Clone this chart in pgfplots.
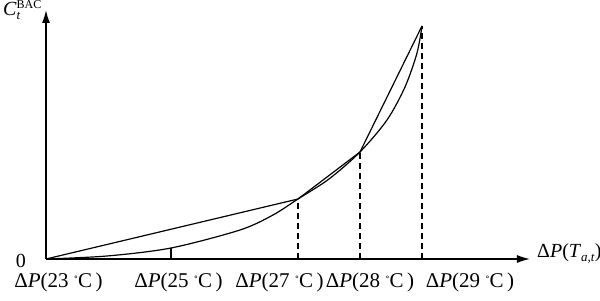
\documentclass[border=0pt]{standalone}
\usepackage{fontspec}
\setmainfont{Liberation Serif}
\usepackage{pgfplots}
\pgfplotsset{compat=1.18}
\usetikzlibrary{arrows.meta}
\newcommand\dP{Δ\textit{P}}
\newcommand\lab[1]{\dP(#1\ {\fontsize{13bp}{13bp}\selectfont\raisebox{0.25ex}{˚}}C\,)}
\begin{document}
\begin{tikzpicture}[font=\fontsize{20bp}{24bp}\selectfont]
\begin{axis}[x=1bp,y=1bp,xmin=0,xmax=484,ymin=0,ymax=249,
  axis lines=left,
  axis line style={line width=1.4bp,-{Latex[length=13bp,width=8bp]}},
  xtick=\empty, ytick=\empty, clip=false]
\addplot[black, line width=1.2bp, smooth, tension=0.5] coordinates {
 (0,0)(61,3)(125,11)(194,29)(227,44)(252,60)(283,80)(314,107)(341,139)(359,172)(371,206)(376,233)};
\addplot[black, line width=1.2bp] coordinates {(0,0)(252,60)(314,107)(376,233)};
\addplot[black, line width=1.2bp] coordinates {(125,0)(125,11)};
\addplot[black, line width=1.2bp, dash pattern=on 6bp off 4bp] coordinates {(252,0)(252,60)};
\addplot[black, line width=1.2bp, dash pattern=on 6bp off 4bp] coordinates {(314,0)(314,107)};
\addplot[black, line width=1.2bp, dash pattern=on 6bp off 4bp] coordinates {(376,0)(376,233)};
\begin{scope}[font=\fontsize{21bp}{24bp}\selectfont]
\node[anchor=base] at (axis cs:12.5,-28) {\lab{23}};
\node[anchor=base] at (axis cs:132.5,-28) {\lab{25}};
\node[anchor=base] at (axis cs:233.5,-28) {\lab{27}};
\node[anchor=base] at (axis cs:324,-28) {\lab{28}};
\node[anchor=base] at (axis cs:424,-28) {\lab{29}};
\end{scope}
\node at (axis cs:-25,-2) {0};
\node[anchor=base west, inner sep=0pt] at (axis cs:491,2) {\dP(\textit{T}\raisebox{-0.45ex}{\fontsize{13bp}{13bp}\selectfont\textit{a,t}})};
\node[anchor=base west, inner sep=0pt] at (axis cs:-43,244) {\textit{C}\rlap{\raisebox{-0.5ex}{\fontsize{13bp}{13bp}\selectfont\textit{t}}}\raisebox{0.75ex}{\fontsize{12bp}{12bp}\selectfont BAC}};
\end{axis}
\pgfresetboundingbox
\useasboundingbox (-46bp,-42bp) rectangle (554bp,259bp);
\end{tikzpicture}
\end{document}
